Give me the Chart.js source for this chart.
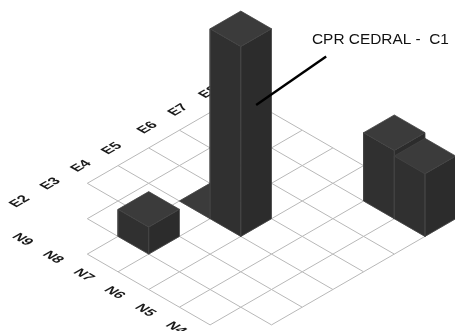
<!DOCTYPE html>
<html>
<head>
<meta charset="utf-8">
<title>CPR CEDRAL</title>
<script src="https://cdn.jsdelivr.net/npm/chart.js@4/dist/chart.umd.js"></script>
<style>
  html, body { margin: 0; padding: 0; background: #fff; }
  canvas { display: block; }
</style>
</head>
<body>
<canvas id="grafico" width="455" height="331"></canvas>
<script>
// Eixos da malha
const rotulosE = ["E2", "E3", "E4", "E5", "E6", "E7", "E8"];
const rotulosN = ["N9", "N8", "N7", "N6", "N5", "N4", "N3"];

// Primeira e ultima coluna E de cada linha N (a malha e recortada)
const inicioLinha = ["E4", "E3", "E2", "E2", "E2", "E2", "E3"];
const fimLinha = ["E8", "E8", "E8", "E8", "E8", "E8", "E8"];

// Barras: coluna, linha e altura
const barrasE = ["E5", "E3", "E5", "E8", "E8"];
const barrasN = ["N7", "N7", "N6", "N4", "N3"];
const barrasValor = [0, 1.53, 10.73, 3.86, 3.54];

const tituloPoco = "CPR CEDRAL -  C1";

const COR_TOPO = "#3b3b3b";
const COR_ESQ = "#303030";
const COR_DIR = "#2c2c2c";
const COR_ARESTA = "#434343";
const COR_GRADE = "#b8b8b8";

// Projecao isometrica: coluna e linha viram unidades dos eixos x e y do grafico
function proj(e, n, h = 0) {
  return { x: e + n, y: n - e - h };
}

// A coluna E4 e a linha N9 sao a origem da malha
const idxE = nome => rotulosE.indexOf(nome) - 2;
const idxN = nome => rotulosN.indexOf(nome);

function montarGrade() {
  const vistos = new Set();
  const pontos = [];
  const aresta = (e1, n1, e2, n2) => {
    const chave = [e1, n1, e2, n2].join(",");
    if (vistos.has(chave)) return;
    vistos.add(chave);
    pontos.push(proj(e1, n1), proj(e2, n2), { x: e2 + n2, y: null });
  };
  rotulosN.forEach((_, n) => {
    for (let e = idxE(inicioLinha[n]); e <= idxE(fimLinha[n]); e++) {
      aresta(e, n, e + 1, n);
      aresta(e, n + 1, e + 1, n + 1);
      aresta(e, n, e, n + 1);
      aresta(e + 1, n, e + 1, n + 1);
    }
  });
  return pontos;
}

function face(pontos, cor) {
  return {
    data: [...pontos, pontos[0]],
    showLine: true,
    pointRadius: 0,
    fill: "shape",
    backgroundColor: cor,
    borderColor: COR_ARESTA,
    borderWidth: 0.8,
    tension: 0
  };
}

function facesDaBarra(e, n, h) {
  const faces = [];
  if (h > 0) {
    faces.push(face([proj(e, n), proj(e, n + 1), proj(e, n + 1, h), proj(e, n, h)], COR_ESQ));
    faces.push(face([proj(e, n + 1), proj(e + 1, n + 1), proj(e + 1, n + 1, h), proj(e, n + 1, h)], COR_DIR));
  }
  faces.push(face([proj(e, n, h), proj(e, n + 1, h), proj(e + 1, n + 1, h), proj(e + 1, n, h)], COR_TOPO));
  return faces;
}

// Pinta do fundo para a frente
const ordemBarras = barrasE
  .map((nome, i) => ({ e: idxE(nome), n: idxN(barrasN[i]), h: barrasValor[i] }))
  .sort((a, b) => (a.n - a.e) - (b.n - b.e));

const datasets = [{
  data: montarGrade(),
  showLine: true,
  pointRadius: 0,
  spanGaps: false,
  borderColor: COR_GRADE,
  borderWidth: 1
}];
ordemBarras.forEach(b => datasets.push(...facesDaBarra(b.e, b.n, b.h)));

// Linha de chamada do titulo, do rotulo ate a face da barra alta
datasets.push({
  data: [{ x: 7.78, y: -7.17 }, { x: 5.5, y: -4.42 }],
  showLine: true,
  pointRadius: 0,
  borderColor: "#000",
  borderWidth: 2.4
});

// Rotulos dos eixos deitados no plano da malha, atras das barras
const rotulosPlugin = {
  id: "rotulos",
  beforeDatasetsDraw(chart) {
    const { ctx, scales: { x, y } } = chart;
    const cx = Math.cos(Math.PI / 6);
    const sy = Math.sin(Math.PI / 6);
    const desenha = (texto, p, dir, folga = 0) => {
      ctx.save();
      ctx.translate(x.getPixelForValue(p.x) + folga, y.getPixelForValue(p.y) - folga * 0.6);
      // dir = -1: texto sobe para a direita (E); dir = 1: desce para a direita (N)
      if (dir < 0) ctx.transform(cx, -sy, cx, sy, 0, 0);
      else ctx.transform(cx, sy, -cx, sy, 0, 0);
      ctx.font = "bold 14px 'Liberation Sans', Arial, sans-serif";
      ctx.fillStyle = "#1a1a1a";
      ctx.textAlign = "center";
      ctx.textBaseline = "middle";
      ctx.fillText(texto, 0, 0);
      ctx.restore();
    };
    // de E6 em diante os rotulos ficam um pouco mais afastados
    rotulosE.forEach((r, i) => desenha(r, proj(idxE(r) + 0.385, -0.585), -1, i >= 4 ? 5 : 0));
    rotulosN.forEach((r, n) => desenha(r, proj(-2.65, n + 0.53), 1));
  },
  afterDatasetsDraw(chart) {
    const { ctx } = chart;
    ctx.save();
    ctx.font = "15.4px 'Liberation Sans', Arial, sans-serif";
    ctx.fillStyle = "#111";
    ctx.textBaseline = "alphabetic";
    ctx.fillText(tituloPoco, 312, 44);
    ctx.restore();
  }
};

new Chart(document.getElementById("grafico").getContext("2d"), {
  type: "scatter",
  data: { datasets: datasets.reverse() },
  options: {
    responsive: false,
    animation: false,
    events: [],
    layout: { padding: 0 },
    plugins: {
      legend: { display: false },
      tooltip: { enabled: false }
    },
    scales: {
      x: { display: false, min: -2.844, max: 11.977 },
      y: { display: false, reverse: true, min: -10.356, max: 8.345 }
    }
  },
  plugins: [rotulosPlugin]
});
</script>
</body>
</html>
